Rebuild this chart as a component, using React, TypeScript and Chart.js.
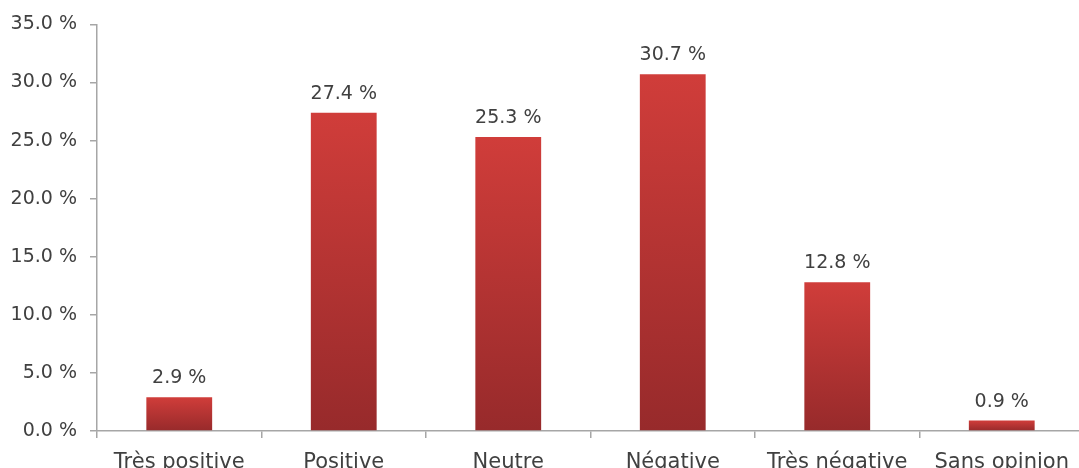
import React, { useEffect, useRef } from "react";
import { Chart, registerables } from "chart.js";

Chart.register(...registerables);

const categories = ["Très positive", "Positive", "Neutre", "Négative", "Très négative", "Sans opinion"];
const values = [2.9, 27.4, 25.3, 30.7, 12.8, 0.9];
const yTicks = [0, 5, 10, 15, 20, 25, 30, 35];

const TEXT = "#404040";
const AXIS = "#a6a6a6";
const FONT = "'DejaVu Sans', sans-serif";

const labelPlugin = {
  id: "valueLabels",
  afterDatasetsDraw(chart: any) {
    const ctx = chart.ctx;
    const meta = chart.getDatasetMeta(0);
    ctx.save();
    ctx.font = `19px ${FONT}`;
    ctx.fillStyle = TEXT;
    ctx.textAlign = "center";
    ctx.textBaseline = "alphabetic";
    meta.data.forEach((bar: any, i: number) => {
      ctx.fillText(`${values[i].toFixed(1)} %`, bar.x, bar.y - 14);
    });
    ctx.restore();
  },
};

export default function App() {
  const ref = useRef<HTMLCanvasElement>(null);
  useEffect(() => {
    document.body.style.margin = "0";
    const canvas = ref.current!;
    const chart = new Chart(canvas, {
      type: "bar",
      data: {
        labels: categories,
        datasets: [
          {
            data: values,
            barPercentage: 0.4,
            categoryPercentage: 1,
            borderWidth: 0,
            backgroundColor: (c: any) => {
              const ch = c.chart;
              const y = ch.scales?.y;
              if (!ch.chartArea || !y || c.type !== "data") return "#c0363a";
              const top = y.getPixelForValue(c.raw);
              const base = y.getPixelForValue(0);
              const g = ch.ctx.createLinearGradient(0, top, 0, Math.max(base, top + 1));
              g.addColorStop(0, "#d03d3a");
              g.addColorStop(1, "#972a2b");
              return g;
            },
          },
        ],
      },
      options: {
        responsive: false,
        animation: false,
        devicePixelRatio: 1,
        layout: { padding: { top: 24, right: 6, left: 0, bottom: 0 } },
        plugins: { legend: { display: false }, tooltip: { enabled: false } },
        scales: {
          x: {
            grid: { display: true, drawOnChartArea: false, drawTicks: true, tickLength: 7, color: AXIS, lineWidth: 1.5 },
            border: { display: true, color: AXIS, width: 1.5 },
            ticks: { color: TEXT, font: { family: FONT, size: 21 }, padding: 12, maxRotation: 0, autoSkip: false },
            afterFit: (s: any) => { s.height = 59; },
          },
          y: {
            min: 0,
            max: 35,
            afterBuildTicks: (s: any) => { s.ticks = yTicks.map((v) => ({ value: v })); },
            grid: { display: true, drawOnChartArea: false, drawTicks: true, tickLength: 7, color: AXIS, lineWidth: 1.5 },
            border: { display: true, color: AXIS, width: 1.5 },
            ticks: {
              color: TEXT,
              font: { family: FONT, size: 19 },
              padding: 13,
              callback: (v: any) => `${Number(v).toFixed(1)} %`,
            },
            afterFit: (s: any) => { s.width = 97; },
          },
        },
      },
      plugins: [labelPlugin],
    });
    return () => chart.destroy();
  }, []);
  return (
    <div style={{ position: "fixed", left: 0, top: 0, width: 1079, height: 468, overflow: "hidden", background: "#fff" }}>
      <canvas ref={ref} width={1090} height={490} style={{ display: "block", width: 1090, height: 490 }} />
    </div>
  );
}
